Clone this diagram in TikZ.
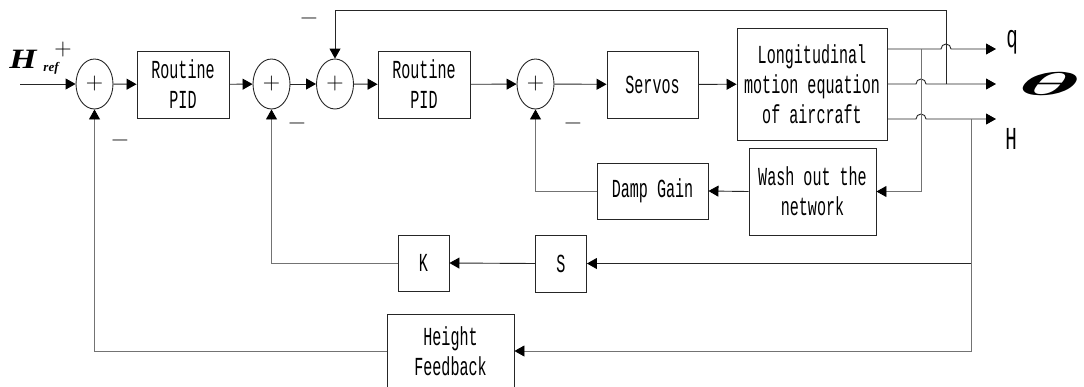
\documentclass[tikz,border=0pt]{standalone}
\usepackage{fontspec}
\usepackage{graphicx}
\usetikzlibrary{arrows.meta,calc,shapes.geometric}
\newfontfamily\boxfont[FakeStretch=0.58]{Liberation Mono}
\newfontfamily\lblfont[FakeStretch=0.6]{Liberation Mono}
\newfontfamily\reffont{Liberation Serif}

\begin{document}
\begin{tikzpicture}[x=1pt,y=1pt,
  line width=0.9pt,
  blk/.style={draw=black!85, align=center, inner sep=0pt,
    font=\boxfont\fontsize{26}{30}\selectfont},
  sumnode/.style={draw=black!85, ellipse, minimum width=37pt, minimum height=50pt,
    inner sep=0pt, font=\fontsize{24}{24}\selectfont},
  sign/.style={inner sep=0pt, font=\fontsize{24}{24}\selectfont},
  arr/.style={draw=black!85, -{Triangle[length=10pt,width=11pt,color=black]}},
  gln/.style={draw=black!55}]
\useasboundingbox (0,0) rectangle (1084,-386);

% summing junctions
\node[sumnode] (s1) at (94.5,-84) {+};
\node[sumnode] (s2) at (271.5,-84) {+};
\node[sumnode] (s3) at (335,-84) {+};
\node[sumnode] (s4) at (535.5,-84) {+};

% forward path blocks
\node[blk, minimum width=92pt, minimum height=67pt] (pid1) at (183,-84.5) {Routine\\PID};
\node[blk, minimum width=92pt, minimum height=67pt] (pid2) at (424,-84.5) {Routine\\PID};
\node[blk, minimum width=91pt, minimum height=67pt] (servo) at (652.5,-84.5) {Servos};
\node[blk, minimum width=150pt, minimum height=112pt] (plant) at (812,-84) {Longitudinal\\motion equation\\of aircraft};

% feedback blocks
\node[blk, minimum width=111pt, minimum height=56pt] (damp) at (652.5,-191) {Damp Gain};
\node[blk, minimum width=127pt, minimum height=87pt] (wash) at (812.5,-191.5) {Wash out the\\network};
\node[blk, minimum width=51pt, minimum height=56pt] (K) at (423.5,-263) {K};
\node[blk, minimum width=51pt, minimum height=57pt] (S) at (561,-263.5) {S};
\node[blk, minimum width=127pt, minimum height=74pt] (hf) at (450.5,-351) {Height\\Feedback};

% signs
\node[sign] (p0) at (63,-50) {+};
\node[sign] (m1) at (120,-143) {−};
\node[sign] (m2) at (297,-126) {−};
\node[sign] (m3) at (309,-21) {−};
\node[sign] (m4) at (573,-126) {−};

% reference input
\node[anchor=base west, inner sep=0pt, font=\reffont\bfseries\itshape\fontsize{28}{28}\selectfont] (href) at (9,-68) {\scalebox{1.25}[1]{H}};
\node[anchor=base west, inner sep=0pt, font=\reffont\bfseries\itshape\fontsize{13}{13}\selectfont] (hsub) at (43,-71) {ref};
\coordinate (in) at (20,-84);

% outputs
\coordinate (qend) at (996,-49);
\coordinate (tend) at (996,-84);
\coordinate (hend) at (996,-119);
\coordinate (tq) at (921,-49);
\coordinate (tt) at (946,-84);
\coordinate (th) at (971,-119);
\node[anchor=west, inner sep=0pt, font=\lblfont\fontsize{32}{32}\selectfont] (ql) at (1006,-42) {q};
\node[inner sep=0pt] (thl) at (1050,-83.5) {\resizebox{64pt}{23pt}{\boldmath$\theta$}};
\node[anchor=west, inner sep=0pt, font=\lblfont\fontsize{32}{32}\selectfont] (hl) at (1005,-139) {H};

% forward path
\draw[arr] (in) -- (s1);
\draw[arr] (s1) -- (pid1);
\draw[arr] (pid1) -- (s2);
\draw[arr] (s2) -- (s3);
\draw[arr] (s3) -- (pid2);
\draw[arr] (pid2) -- (s4);
\draw[arr] (s4) -- (servo);
\draw[arr] (servo) -- (plant);

% output lines with crossing hops
\draw[arr] (plant.east |- qend) -- ($(tt |- qend)+(-5,0)$) arc[start angle=180,end angle=0,radius=5pt] -- (qend);
\draw[arr] (plant.east |- tend) -- ($(tq |- tend)+(-5,0)$) arc[start angle=180,end angle=0,radius=5pt] -- (tend);
\draw[arr] (plant.east |- hend) -- ($(tq |- hend)+(-5,0)$) arc[start angle=180,end angle=0,radius=5pt] -- (hend);

% pitch-rate branch through washout and damping gain
\draw[arr,gln] (tq) |- (wash.east);
\draw[arr] (wash.west) -- (damp.east);
\draw[arr,gln] (damp.west) -| (s4.south);

% attitude feedback over the top
\draw[arr] (tt) -- ++(0,74) -| (s3.north);

% height branches
\draw[arr,gln] (th) |- (hf.east);
\draw[arr] (th |- S.east) -- (S.east);
\draw[arr] (S.west) -- (K.east);
\draw[arr,gln] (K.west) -| (s2.south);
\draw[arr,gln] (hf.west) -| (s1.south);
\end{tikzpicture}
\end{document}
